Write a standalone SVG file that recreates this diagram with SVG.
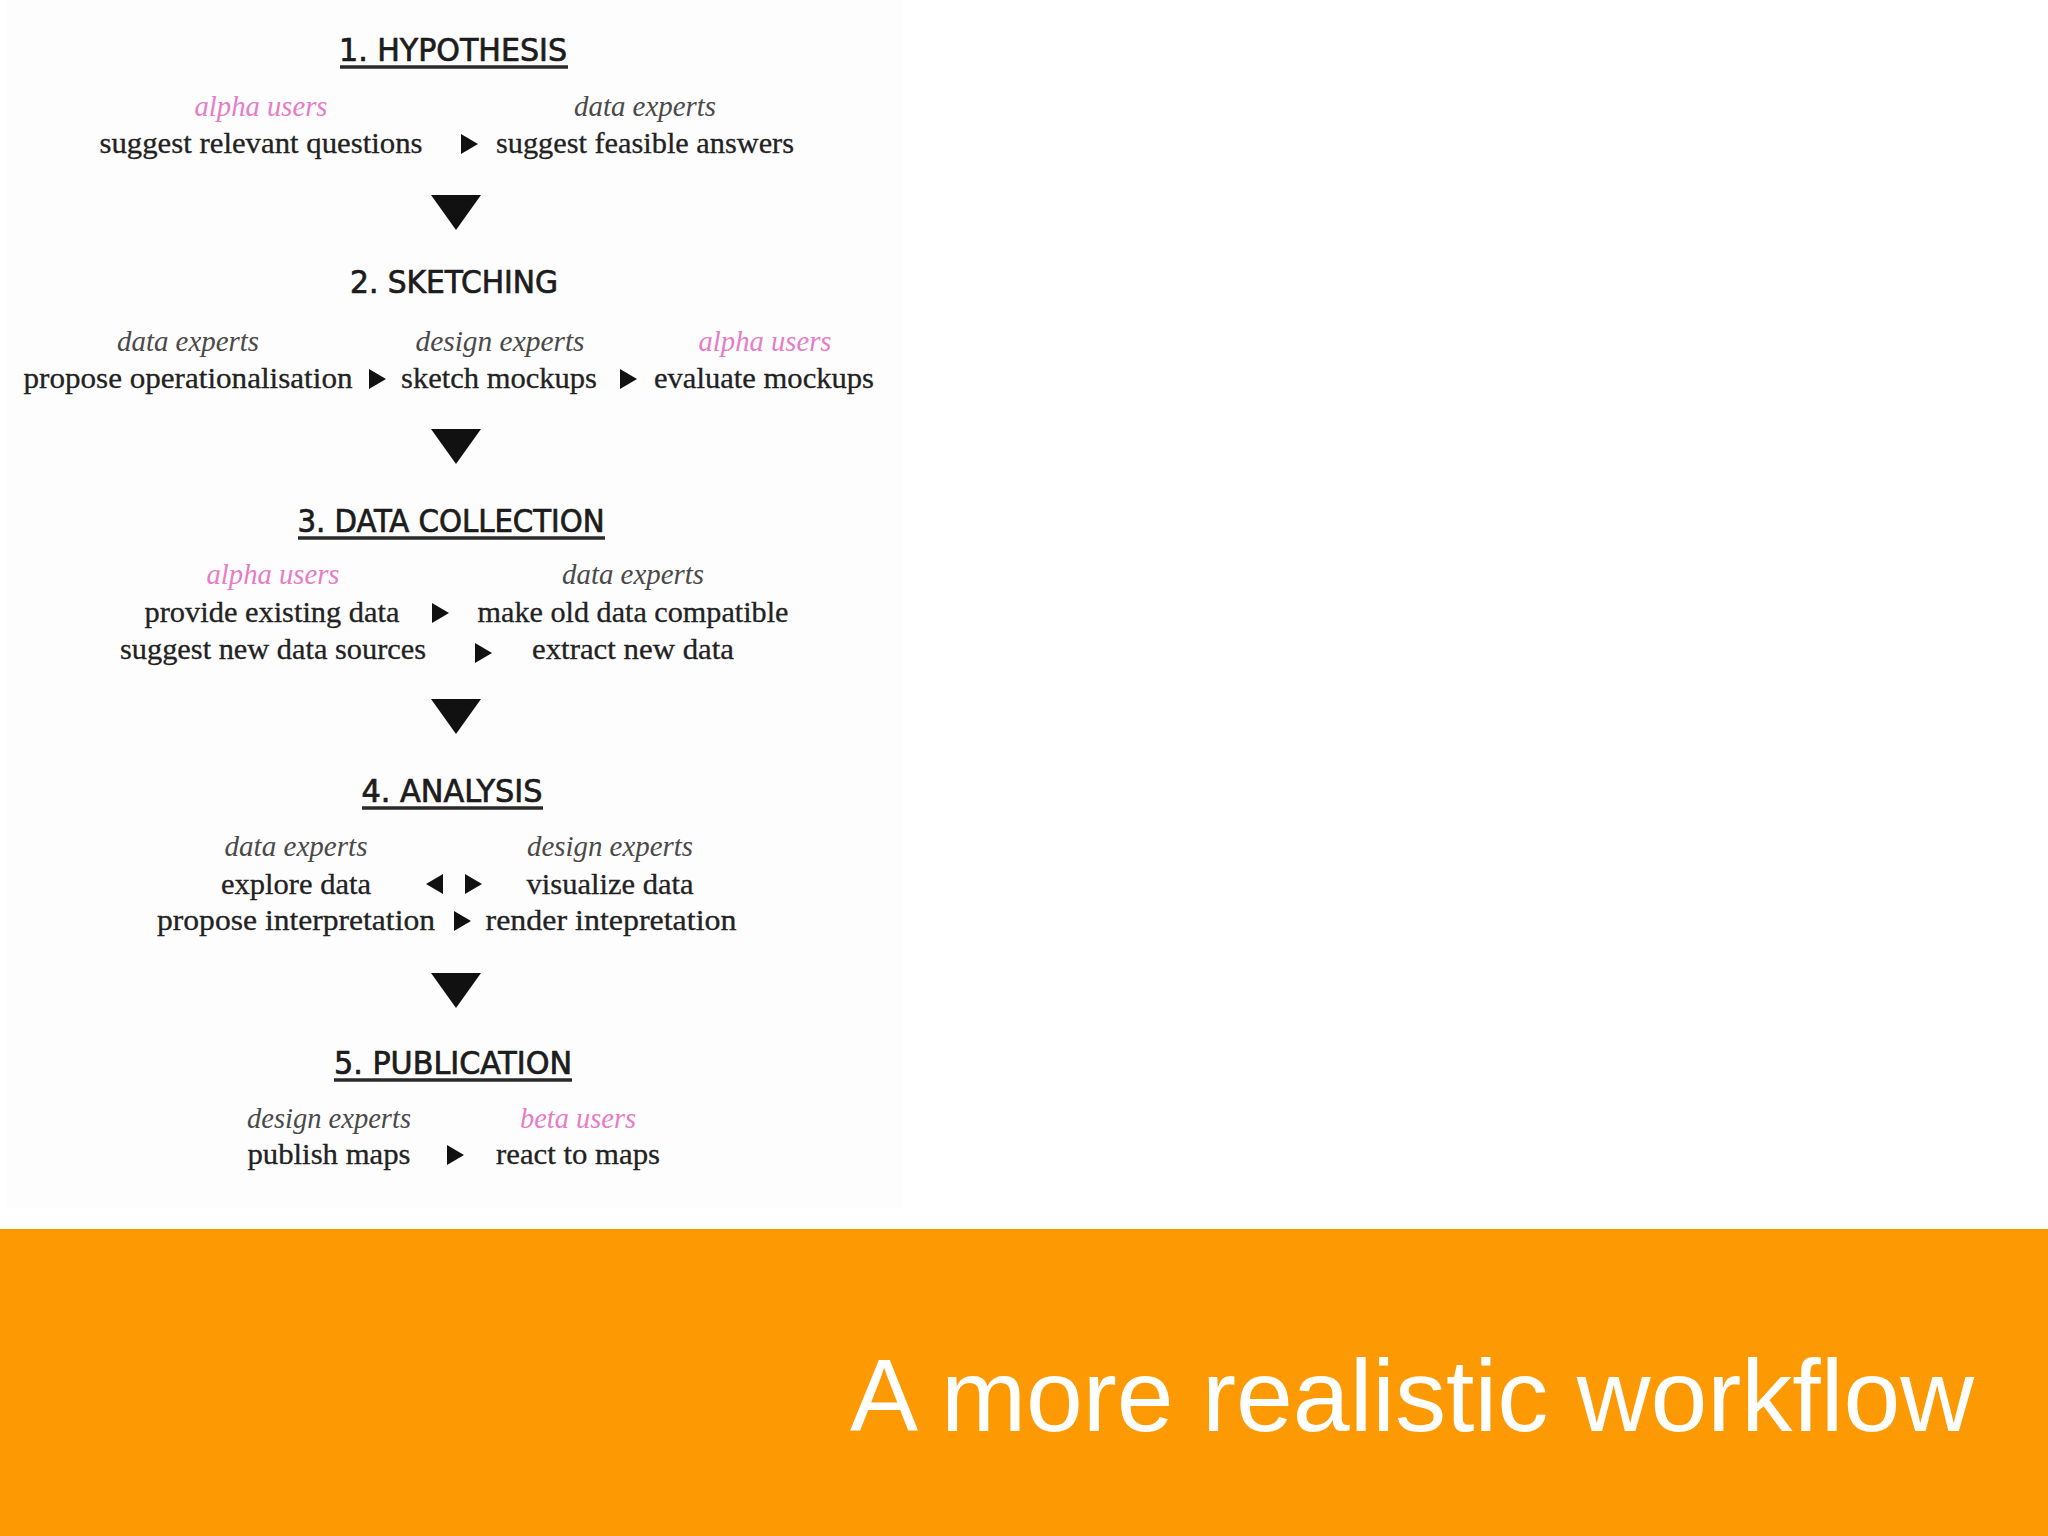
<svg xmlns="http://www.w3.org/2000/svg" width="2048" height="1536" viewBox="0 0 2048 1536">
<style>
.h{font-family:"Liberation Sans Narrow","DejaVu Sans Condensed","Liberation Sans",sans-serif;font-size:32px;fill:#1c1c1c;stroke:#1c1c1c;stroke-width:0.7;text-anchor:middle}
.t{font-family:"Liberation Serif","DejaVu Serif",serif;font-size:30px;fill:#222;stroke:#222;stroke-width:0.3;text-anchor:middle}
.l{font-family:"Liberation Serif","DejaVu Serif",serif;font-size:29px;font-style:italic;fill:#4a4a4a;text-anchor:middle}
.p{fill:#e77cc6}
.u{stroke:#2a2a2a;stroke-width:3.5}
.a{fill:#111}
.title{font-family:"Liberation Sans",Arial,sans-serif;font-size:102px;fill:#ffffff}
</style>
<rect width="2048" height="1536" fill="#ffffff"/>
<rect x="6" y="0" width="896" height="1208" fill="#fefdfe"/>
<rect x="0" y="1229" width="2048" height="307" fill="#fd9903"/>
<text class="title" x="850" y="1431" textLength="1124" lengthAdjust="spacingAndGlyphs">A more realistic workflow</text>

<g id="stage1">
<text class="h" x="453" y="61" textLength="228" lengthAdjust="spacingAndGlyphs">1. HYPOTHESIS</text>
<line class="u" x1="340" y1="67" x2="568" y2="67"/>
<text class="l p" x="261" y="116" textLength="133" lengthAdjust="spacingAndGlyphs">alpha users</text>
<text class="l" x="645" y="116" textLength="142" lengthAdjust="spacingAndGlyphs">data experts</text>
<text class="t" x="261" y="153" textLength="323" lengthAdjust="spacingAndGlyphs">suggest relevant questions</text>
<text class="t" x="645" y="153" textLength="298" lengthAdjust="spacingAndGlyphs">suggest feasible answers</text>
</g>

<g id="stage2">
<text class="h" x="454" y="293" textLength="208" lengthAdjust="spacingAndGlyphs">2. SKETCHING</text>
<text class="l" x="188" y="351" textLength="142" lengthAdjust="spacingAndGlyphs">data experts</text>
<text class="l" x="500" y="351" textLength="169" lengthAdjust="spacingAndGlyphs">design experts</text>
<text class="l p" x="765" y="351" textLength="133" lengthAdjust="spacingAndGlyphs">alpha users</text>
<text class="t" x="188" y="388" textLength="329" lengthAdjust="spacingAndGlyphs">propose operationalisation</text>
<text class="t" x="499" y="388" textLength="196" lengthAdjust="spacingAndGlyphs">sketch mockups</text>
<text class="t" x="764" y="388" textLength="220" lengthAdjust="spacingAndGlyphs">evaluate mockups</text>
</g>

<g id="stage3">
<text class="h" x="451" y="532" textLength="307" lengthAdjust="spacingAndGlyphs">3. DATA COLLECTION</text>
<line class="u" x1="298" y1="538" x2="605" y2="538"/>
<text class="l p" x="273" y="584" textLength="133" lengthAdjust="spacingAndGlyphs">alpha users</text>
<text class="l" x="633" y="584" textLength="142" lengthAdjust="spacingAndGlyphs">data experts</text>
<text class="t" x="272" y="622" textLength="255" lengthAdjust="spacingAndGlyphs">provide existing data</text>
<text class="t" x="633" y="622" textLength="311" lengthAdjust="spacingAndGlyphs">make old data compatible</text>
<text class="t" x="273" y="659" textLength="306" lengthAdjust="spacingAndGlyphs">suggest new data sources</text>
<text class="t" x="633" y="659" textLength="202" lengthAdjust="spacingAndGlyphs">extract new data</text>
</g>

<g id="stage4">
<text class="h" x="452" y="802" textLength="181" lengthAdjust="spacingAndGlyphs">4. ANALYSIS</text>
<line class="u" x1="362" y1="808" x2="543" y2="808"/>
<text class="l" x="296" y="856" textLength="143" lengthAdjust="spacingAndGlyphs">data experts</text>
<text class="l" x="610" y="856" textLength="166" lengthAdjust="spacingAndGlyphs">design experts</text>
<text class="t" x="296" y="894" textLength="150" lengthAdjust="spacingAndGlyphs">explore data</text>
<text class="t" x="610" y="894" textLength="167" lengthAdjust="spacingAndGlyphs">visualize data</text>
<text class="t" x="296" y="930" textLength="278" lengthAdjust="spacingAndGlyphs">propose interpretation</text>
<text class="t" x="611" y="930" textLength="251" lengthAdjust="spacingAndGlyphs">render intepretation</text>
</g>

<g id="stage5">
<text class="h" x="453" y="1074" textLength="238" lengthAdjust="spacingAndGlyphs">5. PUBLICATION</text>
<line class="u" x1="334" y1="1080" x2="572" y2="1080"/>
<text class="l" x="329" y="1128" textLength="164" lengthAdjust="spacingAndGlyphs">design experts</text>
<text class="l p" x="578" y="1128" textLength="116" lengthAdjust="spacingAndGlyphs">beta users</text>
<text class="t" x="329" y="1164" textLength="163" lengthAdjust="spacingAndGlyphs">publish maps</text>
<text class="t" x="578" y="1164" textLength="164" lengthAdjust="spacingAndGlyphs">react to maps</text>
</g>

<g id="connectors">
<polygon class="a" points="431,195 481,195 456,230"/>
<polygon class="a" points="431,429 481,429 456,464"/>
<polygon class="a" points="431,699 481,699 456,734"/>
<polygon class="a" points="431,973 481,973 456,1008"/>
<polygon class="a" points="461,134 478,144 461,154"/>
<polygon class="a" points="369,369 386,379 369,389"/>
<polygon class="a" points="620,369 637,379 620,389"/>
<polygon class="a" points="432,603 449,613 432,623"/>
<polygon class="a" points="475,643 492,653 475,663"/>
<polygon class="a" points="443,874 426,884 443,894"/>
<polygon class="a" points="465,874 482,884 465,894"/>
<polygon class="a" points="454,911 471,921 454,931"/>
<polygon class="a" points="447,1145 464,1155 447,1165"/>
</g>
</svg>
